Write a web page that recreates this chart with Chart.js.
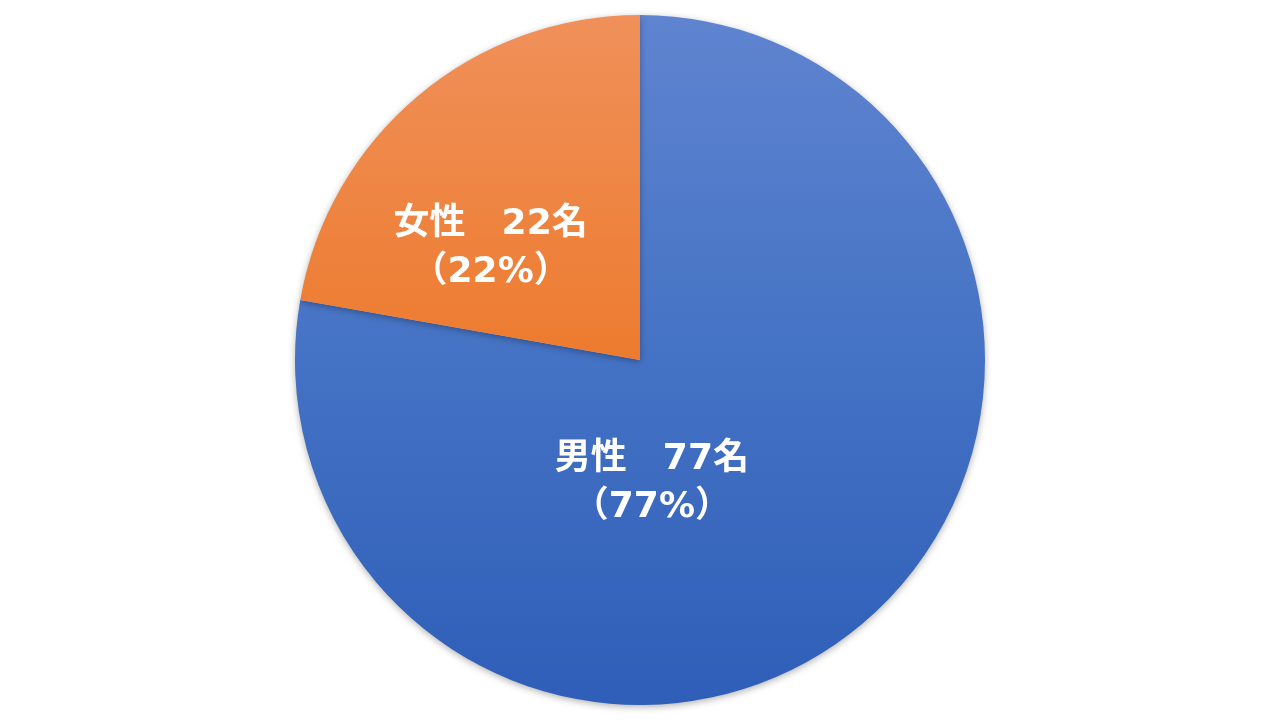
<!DOCTYPE html>
<html lang="ja">
<head>
<meta charset="utf-8">
<title>男女比</title>
<script src="https://cdn.jsdelivr.net/npm/chart.js@4.4.1/dist/chart.umd.min.js"></script>
<style>
    html, body { margin: 0; padding: 0; background: #ffffff; }
    #wrap { width: 1280px; height: 720px; position: relative; }
</style>
</head>
<body>
<div id="wrap"><canvas id="genderChart"></canvas></div>
<script>
// Data
const categories = ['男性', '女性'];
const counts = [77, 22];
const percents = [77, 22];

// Gradient stops per slice (top -> bottom)
const gradientStops = [
    ['#5F84D0', '#4472C4', '#2E5EB8'],
    ['#F0905A', '#ED7B2E', '#E3691A']
];

// Label placement: fraction of radius, angle (deg, clockwise from 12 o'clock)
const labelPlace = [
    { r: 0.36, angle: 174.5 },
    { r: 0.54, angle: 306.7 }
];

function sliceGradient(context) {
    const chart = context.chart;
    const area = chart.chartArea;
    if (!area) return gradientStops[context.dataIndex][1];
    const stops = gradientStops[context.dataIndex];
    const g = chart.ctx.createLinearGradient(0, area.top, 0, area.bottom);
    g.addColorStop(0, stops[0]);
    g.addColorStop(0.5, stops[1]);
    g.addColorStop(1, stops[2]);
    return g;
}

// Soft drop shadow behind the pie
const pieShadow = {
    id: 'pieShadow',
    beforeDatasetDraw(chart) {
        const ctx = chart.ctx;
        ctx.save();
        ctx.shadowColor = 'rgba(0, 0, 0, 0.30)';
        ctx.shadowBlur = 7;
        ctx.shadowOffsetY = 2;
    },
    afterDatasetDraw(chart) {
        chart.ctx.restore();
    }
};

// Two-line white labels inside slices
const sliceLabels = {
    id: 'sliceLabels',
    afterDatasetsDraw(chart) {
        const ctx = chart.ctx;
        const meta = chart.getDatasetMeta(0);
        ctx.save();
        ctx.fillStyle = '#ffffff';
        ctx.textAlign = 'center';
        ctx.textBaseline = 'middle';
        ctx.font = 'bold 36px "DejaVu Sans", "Noto Sans CJK JP", sans-serif';
        meta.data.forEach(function(arc, i) {
            const p = labelPlace[i];
            const a = p.angle * Math.PI / 180;
            const x = arc.x + Math.sin(a) * arc.outerRadius * p.r;
            const y = arc.y - Math.cos(a) * arc.outerRadius * p.r;
            ctx.fillText(categories[i] + '\u3000' + counts[i] + '名', x, y - 24);
            ctx.fillText('（' + percents[i] + '%）', x, y + 24);
        });
        ctx.restore();
    }
};

new Chart(document.getElementById('genderChart'), {
    type: 'pie',
    data: {
        labels: categories,
        datasets: [{
            data: counts,
            backgroundColor: sliceGradient,
            borderWidth: 0
        }]
    },
    options: {
        responsive: true,
        maintainAspectRatio: false,
        animation: false,
        layout: { padding: { top: 15, bottom: 15 } },
        plugins: {
            legend: { display: false },
            tooltip: { enabled: false }
        }
    },
    plugins: [pieShadow, sliceLabels]
});
</script>
</body>
</html>
